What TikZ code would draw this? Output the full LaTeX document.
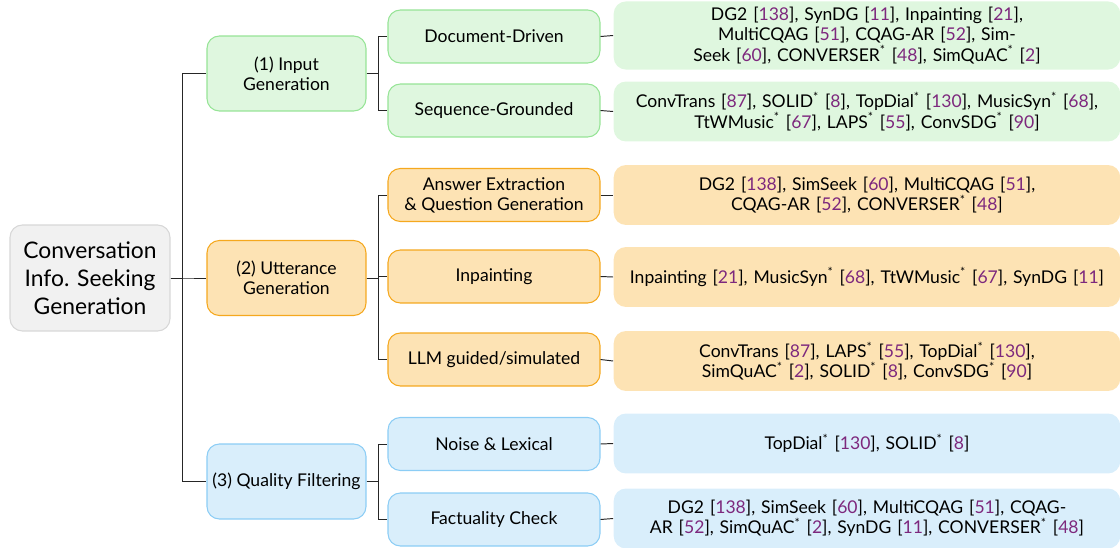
\documentclass[tikz,border=0pt]{standalone}
\usepackage{fontspec}
\setmainfont{Lato}
\usetikzlibrary{positioning}

\definecolor{citecol}{RGB}{125,40,125}
\definecolor{rootfill}{RGB}{241,241,241}
\definecolor{rootline}{RGB}{215,215,215}
\definecolor{inpfill}{RGB}{223,247,223}
\definecolor{inpline}{RGB}{150,228,150}
\definecolor{uttfill}{RGB}{253,227,180}
\definecolor{uttline}{RGB}{245,168,30}
\definecolor{qualfill}{RGB}{217,238,251}
\definecolor{qualline}{RGB}{140,205,245}

\newcommand{\cit}[1]{[\textcolor{citecol}{#1}]}
\newcommand{\st}{\textsuperscript{*}}

\tikzset{
  box/.style={rounded corners=7pt, align=center, line width=0.6pt,
    font=\fontsize{10}{11.5}\selectfont},
  rootbox/.style={box, fill=rootfill, draw=rootline, minimum width=3.2cm,
    minimum height=2.12cm, font=\fontsize{13}{16}\selectfont},
  catbox/.style={box, minimum width=3.18cm, minimum height=1.5cm, inner xsep=0pt},
  subbox/.style={box, minimum width=4.24cm, minimum height=1.06cm},
  refbox/.style={box, minimum width=10.08cm, minimum height=1.2cm, text width=9.9cm},
  inp/.style={fill=inpfill, draw=inpline},
  utt/.style={fill=uttfill, draw=uttline},
  qual/.style={fill=qualfill, draw=qualline},
  conn/.style={draw=black!85, line width=0.55pt}
}

\begin{document}
\begin{tikzpicture}[x=0.02cm, y=-0.02cm]
  \useasboundingbox (0,0) rectangle (1120,548);

  % Root of the tree
  \node[rootbox] (root) at (90,278) {Conversation\\Info. Seeking\\Generation};

  % First level: the three stages
  \node[catbox, inp]  (inp)  at (286.5,73.5) {(1) Input\\Generation};
  \node[catbox, utt]  (utt)  at (286.5,278)  {(2) Utterance\\Generation};
  \node[catbox, qual] (qual) at (286.5,481.5) {(3) Quality Filtering};

  % Second level: the methods of each stage
  \node[subbox, inp]  (doc)  at (494,36.5)  {Document-Driven};
  \node[subbox, inp]  (seq)  at (494,110.5) {Sequence-Grounded};
  \node[subbox, utt]  (ans)  at (494,195)   {Answer Extraction\\\& Question Generation};
  \node[subbox, utt]  (inpt) at (494,276.5) {Inpainting};
  \node[subbox, utt]  (llm)  at (494,359.5) {LLM guided/simulated};
  \node[subbox, qual] (noise) at (494,444)  {Noise \& Lexical};
  \node[subbox, qual] (fact) at (494,519.5) {Factuality Check};

  % Third level: the works that use each method
  \node[refbox, fill=inpfill] (docr) at (867,35.5)
    {DG2 \cit{138}, SynDG \cit{11}, Inpainting \cit{21},\\
     MultiCQAG \cit{51}, CQAG-AR \cit{52}, Sim-\\
     Seek \cit{60}, CONVERSER\st{} \cit{48}, SimQuAC\st{} \cit{2}};
  \node[refbox, fill=inpfill] (seqr) at (867,111.5)
    {ConvTrans \cit{87}, SOLID\st{} \cit{8}, TopDial\st{} \cit{130}, MusicSyn\st{} \cit{68},\\
     TtWMusic\st{} \cit{67}, LAPS\st{} \cit{55}, ConvSDG\st{} \cit{90}};
  \node[refbox, fill=uttfill] (ansr) at (867,195)
    {DG2 \cit{138}, SimSeek \cit{60}, MultiCQAG \cit{51},\\
     CQAG-AR \cit{52}, CONVERSER\st{} \cit{48}};
  \node[refbox, fill=uttfill] (inptr) at (867,277)
    {Inpainting \cit{21}, MusicSyn\st{} \cit{68}, TtWMusic\st{} \cit{67}, SynDG \cit{11}};
  \node[refbox, fill=uttfill] (llmr) at (867,361)
    {ConvTrans \cit{87}, LAPS\st{} \cit{55}, TopDial\st{} \cit{130},\\
     SimQuAC\st{} \cit{2}, SOLID\st{} \cit{8}, ConvSDG\st{} \cit{90}};
  \node[refbox, fill=qualfill] (noiser) at (867,443.5)
    {TopDial\st{} \cit{130}, SOLID\st{} \cit{8}};
  \node[refbox, fill=qualfill] (factr) at (867,518.5)
    {DG2 \cit{138}, SimSeek \cit{60}, MultiCQAG \cit{51}, CQAG-\\
     AR \cit{52}, SimQuAC\st{} \cit{2}, SynDG \cit{11}, CONVERSER\st{} \cit{48}};

  % Connectors: root to stages
  \foreach \n in {inp, utt, qual}
    \draw[conn] (root.east) -- ++(12,0) |- (\n.west);

  % Connectors: stages to methods
  \foreach \a/\b in {inp/doc, inp/seq, utt/ans, utt/inpt, utt/llm, qual/noise, qual/fact}
    \draw[conn] (\a.east) -- ++(12,0) |- (\b.west);

  % Connectors: methods to works
  \foreach \a in {doc, seq, ans, inpt, llm, noise, fact}
    \draw[conn] (\a.east) -- (\a r.west);
\end{tikzpicture}
\end{document}
